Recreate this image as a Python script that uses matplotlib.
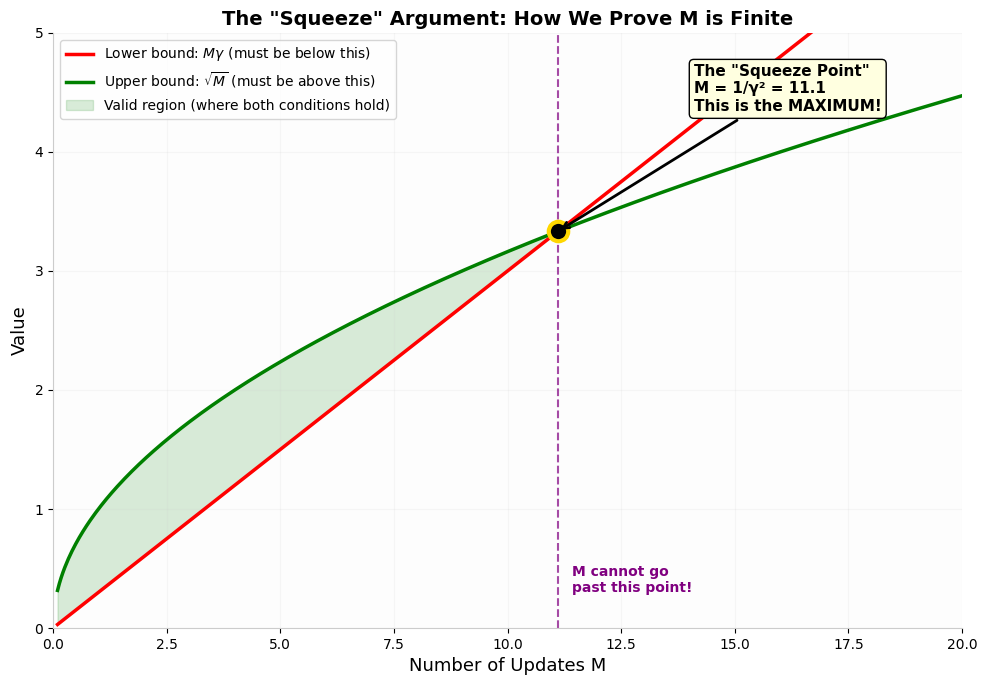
import numpy as np
import matplotlib
matplotlib.use("Agg")
import matplotlib.pyplot as plt

gamma = 0.3
M_start, M_end, n_points = 0.1, 20.0, 500
M_max = 1 / gamma**2

M = np.linspace(M_start, M_end, n_points)
lower = M * gamma
upper = np.sqrt(M)

fig = plt.figure(figsize=(9.87, 6.86), dpi=100)
ax = fig.add_axes([0.0537, 0.0845, 0.921, 0.8675])
ax.set_facecolor('#fdfdfd')

ax.plot(M, lower, color='red', lw=2.5, label=r'Lower bound: $M\gamma$ (must be below this)', zorder=3)
ax.plot(M, upper, color='green', lw=2.5, label=r'Upper bound: $\sqrt{M}$ (must be above this)', zorder=3)
ax.fill_between(M, lower, upper, where=(upper >= lower), color='green', alpha=0.15,
                label='Valid region (where both conditions hold)', interpolate=True)

ax.axvline(M_max, color='purple', ls='--', lw=1.5, alpha=0.7)
ax.plot([M_max], [np.sqrt(M_max)], 'o', color='black', markersize=14,
        markeredgecolor='gold', markeredgewidth=3, zorder=5)

ax.annotate('The "Squeeze Point"\nM = 1/γ² = 11.1\nThis is the MAXIMUM!',
            xy=(M_max, np.sqrt(M_max)), xytext=(14.1, 4.53),
            fontsize=11, fontweight='bold', ha='left', va='center',
            bbox=dict(boxstyle='round,pad=0.3', facecolor='lightyellow', edgecolor='black'),
            arrowprops=dict(arrowstyle='->', color='black', lw=2), zorder=6)

ax.text(M_max + 0.3, 0.28, 'M cannot go\npast this point!', color='purple',
        fontsize=10, fontweight='bold', ha='left', va='bottom')

ax.set_xlim(0, 20)
ax.set_ylim(0, 5)
ax.set_xlabel('Number of Updates M', fontsize=13)
ax.set_ylabel('Value', fontsize=13)
ax.set_title('The "Squeeze" Argument: How We Prove M is Finite', fontsize=14, fontweight='bold')
ax.grid(True, alpha=0.15, color='#cccccc')
for s in ['top', 'right']:
    ax.spines[s].set_visible(False)
for s in ['left', 'bottom']:
    ax.spines[s].set_color('#cccccc')
ax.legend(loc='upper left', fontsize=10)

fig.savefig('out.png', dpi=100)
